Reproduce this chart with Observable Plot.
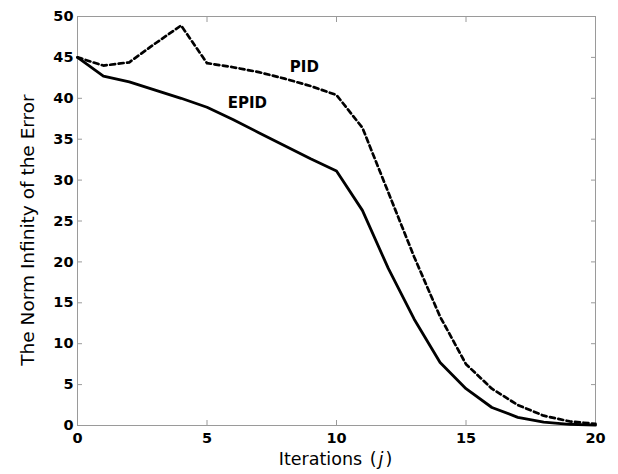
<!DOCTYPE html>
<html><head><meta charset="utf-8">
<script src="https://cdn.jsdelivr.net/npm/d3@7"></script>
<script src="https://cdn.jsdelivr.net/npm/@observablehq/plot@0.6"></script>
<style>
body{margin:0;background:#fff}
</style></head><body><div id="chart"></div>
<script>
const iterations = [0,1,2,3,4,5,6,7,8,9,10,11,12,13,14,15,16,17,18,19,20];
const epid = [45,42.7,42.0,41.0,40.0,38.9,37.4,35.8,34.2,32.6,31.1,26.3,19.2,13.0,7.7,4.5,2.2,1.0,0.4,0.15,0.05];
const pid  = [45,44.0,44.4,46.7,48.9,44.3,43.8,43.2,42.4,41.5,40.4,36.4,28.5,20.6,13.3,7.5,4.5,2.5,1.2,0.5,0.2];
const xTicks = [0,5,10,15,20];
const yTicks = [0,5,10,15,20,25,30,35,40,45,50];
const xLabel = "Iterations (j)";
const yLabel = "The Norm Infinity of the Error";
const seriesNames = ["PID","EPID"];
const seriesLabelX = [8.76,6.56];
const seriesLabelY = [43.8,39.4];

const pidRows = iterations.map((x,i)=>({x, y: pid[i]}));
const epidRows = iterations.map((x,i)=>({x, y: epid[i]}));
const labelRows = seriesNames.map((name,i)=>({name, x: seriesLabelX[i], y: seriesLabelY[i]}));
const frameGray = "#9a9a9a";

const chart = Plot.plot({
  width: 618, height: 474,
  marginLeft: 77, marginRight: 23, marginTop: 16, marginBottom: 49,
  style: {fontFamily: "DejaVu Sans", background: "white", color: "black"},
  x: {domain: [0,20]},
  y: {domain: [0,50]},
  marks: [
    Plot.axisX(xTicks, {anchor:"bottom", tickSize:-5, stroke:frameGray, fill:"none", label:null}),
    Plot.axisX(xTicks, {anchor:"top", tickSize:-5, stroke:frameGray, fill:"none", label:null}),
    Plot.axisY(yTicks, {anchor:"left", tickSize:-5, stroke:frameGray, fill:"none", label:null}),
    Plot.axisY(yTicks, {anchor:"right", tickSize:-5, stroke:frameGray, fill:"none", label:null}),
    Plot.axisX(xTicks, {anchor:"bottom", tickSize:0, tickPadding:7, fontSize:14.5, fontWeight:"bold", fill:"black", label:null}),
    Plot.axisY(yTicks, {anchor:"left", tickSize:0, tickPadding:4, fontSize:14.5, fontWeight:"bold", fill:"black", label:null}),
    Plot.frame({stroke: frameGray}),
    Plot.line(pidRows, {x:"x", y:"y", stroke:"black", strokeWidth:2.7, strokeDasharray:"5,3.5"}),
    Plot.line(epidRows, {x:"x", y:"y", stroke:"black", strokeWidth:2.8}),
    Plot.text(labelRows, {x:"x", y:"y", text:"name", fontWeight:"bold", fontSize:15, fill:"black"}),
    Plot.text([xLabel], {text: d=>d, frameAnchor:"bottom", dy:39, dx:-1, fontSize:17.5, fill:"black"}),
    Plot.text([yLabel], {text: d=>d, frameAnchor:"left", textAnchor:"middle", dx:-49, dy:9, rotate:-90, fontSize:18.5, fill:"black"})
  ]
});
chart.querySelectorAll("text").forEach(t => {
  if (t.textContent === xLabel) {
    t.innerHTML = 'Iterations <tspan dx="2">(</tspan><tspan font-style="italic" dx="2">j</tspan><tspan dx="2">)</tspan>';
  }
});
document.getElementById("chart").appendChild(chart);
</script></body></html>
